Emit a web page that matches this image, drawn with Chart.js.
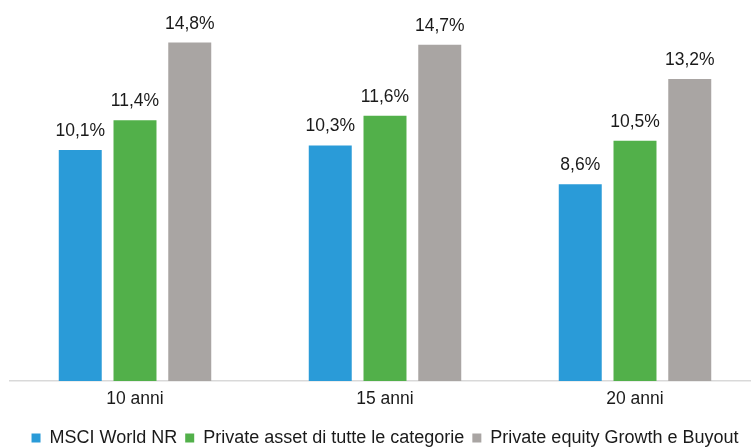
<!DOCTYPE html>
<html>
<head>
<meta charset="utf-8">
<script src="https://cdn.jsdelivr.net/npm/chart.js@4"></script>
<style>
  html, body { margin: 0; padding: 0; background: #fff; overflow: hidden; }
  #wrap { width: 770px; height: 457px; }
</style>
</head>
<body>
<div id="wrap"><canvas id="returnsChart" width="770" height="457"></canvas></div>
<script>
const categories = ["10 anni", "15 anni", "20 anni"];
const seriesNames = ["MSCI World NR", "Private asset di tutte le categorie", "Private equity Growth e Buyout"];
const msciWorld = [10.1, 10.3, 8.6];
const privateAsset = [11.4, 11.6, 10.5];
const privateEquity = [14.8, 14.7, 13.2];

const colors = ["#2A9BD8", "#52B04A", "#A9A5A3"];

Chart.defaults.font.family = "'Liberation Sans', Arial, sans-serif";
Chart.defaults.color = "#1a1a1a";

// value labels above the bars, italian decimal comma
const barLabels = {
  id: "barLabels",
  afterDatasetsDraw(chart) {
    const ctx = chart.ctx;
    ctx.save();
    ctx.font = "17.5px 'Liberation Sans', Arial, sans-serif";
    ctx.fillStyle = "#1a1a1a";
    ctx.textAlign = "center";
    ctx.textBaseline = "bottom";
    chart.data.datasets.forEach((ds, i) => {
      chart.getDatasetMeta(i).data.forEach((bar, j) => {
        ctx.fillText(ds.data[j].toFixed(1).replace(".", ",") + "%", bar.x, bar.y - 10);
      });
    });
    ctx.restore();
  }
};

new Chart(document.getElementById("returnsChart"), {
  type: "bar",
  data: {
    labels: categories,
    datasets: [
      { label: seriesNames[0], data: msciWorld, backgroundColor: colors[0] },
      { label: seriesNames[1], data: privateAsset, backgroundColor: colors[1] },
      { label: seriesNames[2], data: privateEquity, backgroundColor: colors[2] }
    ]
  },
  options: {
    responsive: false,
    animation: false,
    categoryPercentage: 0.657,
    barPercentage: 0.785,
    layout: { padding: { left: 10, right: 10, top: 15, bottom: 0 } },
    scales: {
      x: {
        grid: { display: false },
        border: { display: true, color: "#d9d9d9", width: 1.5 },
        ticks: { font: { size: 17.5 }, color: "#1a1a1a", padding: 0 },
        afterFit: (scale) => { scale.height += 11; } // gap before legend
      },
      y: {
        display: false,
        min: 0,
        max: 16
      }
    },
    plugins: {
      legend: {
        position: "bottom",
        labels: {
          boxWidth: 9,
          boxHeight: 9,
          padding: 8,
          font: { size: 18 },
          color: "#1a1a1a"
        }
      },
      tooltip: { enabled: false }
    }
  },
  plugins: [barLabels]
});
</script>
</body>
</html>
